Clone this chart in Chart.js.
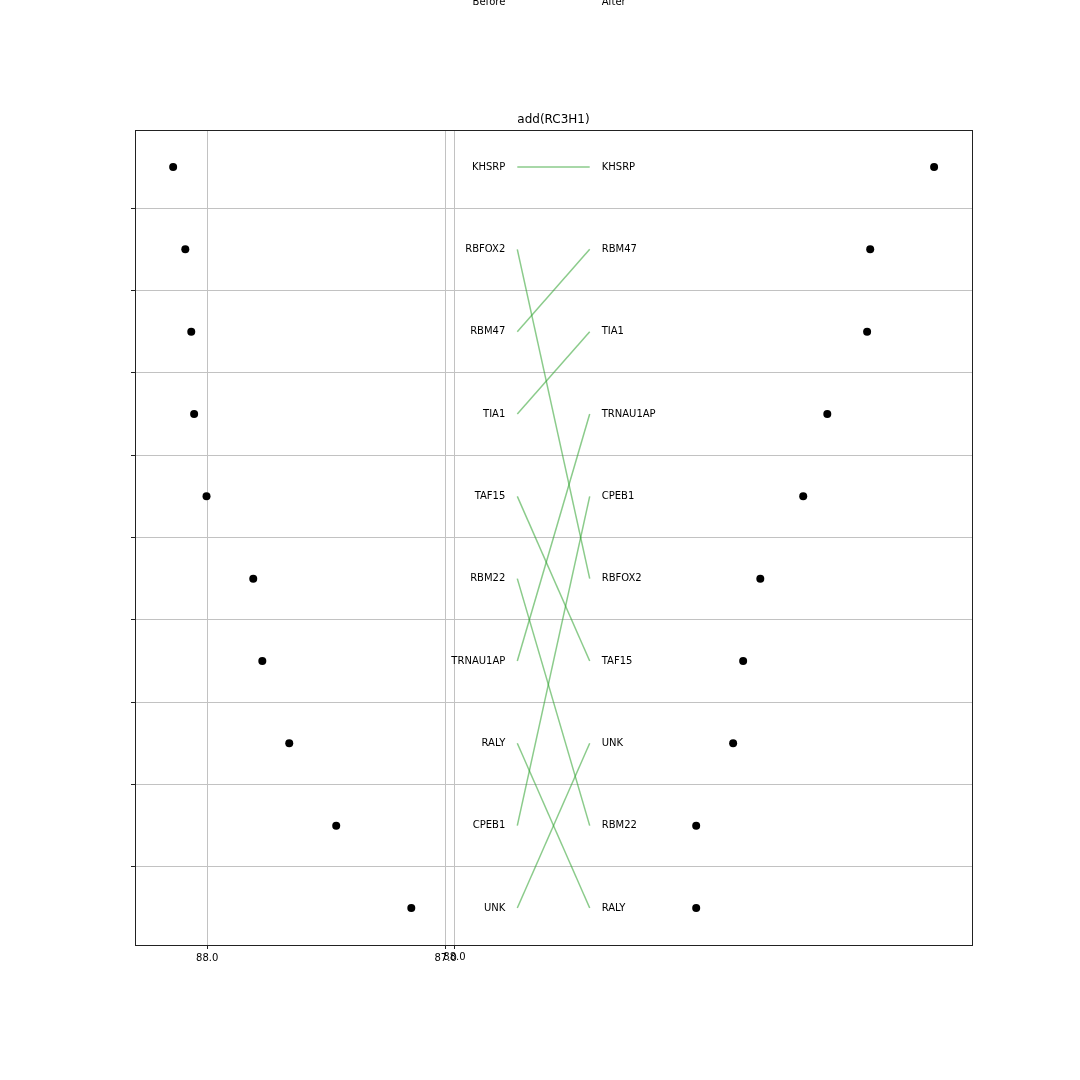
<!DOCTYPE html>
<html>
<head>
<meta charset="utf-8">
<script src="https://cdn.jsdelivr.net/npm/chart.js@4/dist/chart.umd.min.js"></script>
<style>
html,body{margin:0;padding:0;background:#fff;}
#wrap{width:1080px;height:1080px;}
</style>
</head>
<body>
<div id="wrap"><canvas id="c" width="1080" height="1080"></canvas></div>
<script>
// ---- data ----
const chartTitle = 'add(RC3H1)';
const headerBefore = 'Before';
const headerAfter = 'After';
const beforeGenes = ['KHSRP','RBFOX2','RBM47','TIA1','TAF15','RBM22','TRNAU1AP','RALY','CPEB1','UNK'];
const beforeScores = [88.143, 88.092, 88.067, 88.055, 88.003, 87.807, 87.769, 87.656, 87.459, 87.144];
const afterGenes = ['KHSRP','RBM47','TIA1','TRNAU1AP','CPEB1','RBFOX2','TAF15','UNK','RBM22','RALY'];
const afterScores = [90.013, 89.745, 89.732, 89.565, 89.464, 89.284, 89.212, 89.170, 89.015, 89.015];
const beforeTicks = [88.0, 87.0];
const beforeTickLabels = ['88.0', '87.0'];
const afterTicks = [88.0];
const afterTickLabels = ['88.0'];
const rowTicks = [0.5, 1.5, 2.5, 3.5, 4.5, 5.5, 6.5, 7.5, 8.5];

// ---- styling ----
const FONT = "'DejaVu Sans', sans-serif";
Chart.defaults.font.family = FONT;
Chart.defaults.font.size = 10;
Chart.defaults.color = '#000';
const GRID = '#c2c2c2';
const SLOPE = 'rgba(44,160,44,0.55)';

const beforeData = beforeScores.map((v, i) => ({x: v, y: i}));
const afterData = afterScores.map((v, i) => ({x: v, y: i}));

const slopeSets = beforeGenes.map((g, i) => ({
  type: 'line',
  xAxisID: 'xm', yAxisID: 'y',
  data: [{x: 0, y: i}, {x: 1, y: afterGenes.indexOf(g)}],
  borderColor: SLOPE, borderWidth: 1.5, pointRadius: 0, fill: false, tension: 0
}));

const overlay = {
  id: 'overlay',
  beforeDatasetsDraw(chart) {
    const {ctx, chartArea: a, scales} = chart;
    ctx.save();
    ctx.strokeStyle = GRID; ctx.lineWidth = 1;
    afterTicks.forEach(t => {
      const px = Math.round(scales.x2.getPixelForValue(t)) + 0.5;
      ctx.beginPath(); ctx.moveTo(px, a.top); ctx.lineTo(px, a.bottom); ctx.stroke();
    });
    ctx.restore();
  },
  afterDraw(chart) {
    const {ctx, chartArea: a, scales} = chart;
    ctx.save();
    // frame
    ctx.strokeStyle = '#222'; ctx.lineWidth = 1;
    ctx.strokeRect(Math.round(a.left) + 0.5, Math.round(a.top) + 0.5,
                   Math.round(a.right - a.left), Math.round(a.bottom - a.top));
    // title centred over the plot area
    ctx.fillStyle = '#000';
    ctx.font = '12px ' + FONT;
    ctx.textAlign = 'center'; ctx.textBaseline = 'middle';
    ctx.fillText(chartTitle, (a.left + a.right) / 2, a.top - 10);
    // after-axis tick
    ctx.font = '10px ' + FONT;
    afterTicks.forEach((t, i) => {
      const px = Math.round(scales.x2.getPixelForValue(t)) + 0.5;
      ctx.beginPath(); ctx.moveTo(px, a.bottom); ctx.lineTo(px, a.bottom + 4); ctx.stroke();
      ctx.textAlign = 'center'; ctx.textBaseline = 'top';
      ctx.fillText(afterTickLabels[i], px, a.bottom + 7);
    });
    // gene labels
    const xl = scales.xm.getPixelForValue(0) - 12;
    const xr = scales.xm.getPixelForValue(1) + 12;
    ctx.textBaseline = 'middle';
    beforeGenes.forEach((g, i) => {
      ctx.textAlign = 'right';
      ctx.fillText(g, xl, scales.y.getPixelForValue(i));
    });
    afterGenes.forEach((g, i) => {
      ctx.textAlign = 'left';
      ctx.fillText(g, xr, scales.y.getPixelForValue(i));
    });
    // headers
    const yh = scales.y.getPixelForValue(-2);
    ctx.textAlign = 'right'; ctx.fillText(headerBefore, xl, yh);
    ctx.textAlign = 'left'; ctx.fillText(headerAfter, xr, yh);
    ctx.restore();
  }
};

new Chart(document.getElementById('c'), {
  type: 'scatter',
  data: {
    datasets: [
      ...slopeSets,
      {
        label: 'Before', xAxisID: 'x', yAxisID: 'y', data: beforeData,
        pointRadius: 4, pointBackgroundColor: '#000', pointBorderColor: '#000', pointBorderWidth: 0, showLine: false
      },
      {
        label: 'After', xAxisID: 'x2', yAxisID: 'y', data: afterData,
        pointRadius: 4, pointBackgroundColor: '#000', pointBorderColor: '#000', pointBorderWidth: 0, showLine: false
      }
    ]
  },
  options: {
    responsive: false,
    animation: false,
    events: [],
    layout: {padding: {left: 125, right: 108, top: 130, bottom: 110}},
    plugins: {
      legend: {display: false},
      tooltip: {enabled: false},
      title: {display: false}
    },
    scales: {
      x: {
        type: 'linear', position: 'bottom', reverse: true,
        min: 84.792, max: 88.303,
        afterBuildTicks: s => { s.ticks = beforeTicks.map(v => ({value: v})); },
        afterFit: s => { s.height = 25; },
        ticks: {
          color: '#000', font: {size: 10, family: FONT}, padding: 3, maxRotation: 0,
          callback: (v) => { const i = beforeTicks.indexOf(v); return i >= 0 ? beforeTickLabels[i] : ''; }
        },
        grid: {color: GRID, lineWidth: 1, drawTicks: true, tickLength: 4, tickColor: '#222'},
        border: {display: true, color: '#222', width: 1}
      },
      x2: {
        type: 'linear', display: false, min: 86.661, max: 90.172
      },
      xm: {
        type: 'linear', display: false, min: -5.280, max: 6.280
      },
      y: {
        type: 'linear', position: 'left', reverse: true,
        min: -0.45, max: 9.45,
        afterBuildTicks: s => { s.ticks = rowTicks.map(v => ({value: v})); },
        afterFit: s => { s.width = 10; },
        ticks: {display: true, callback: () => ''},
        grid: {color: GRID, lineWidth: 1, drawTicks: true, tickLength: 4, tickColor: '#222'},
        border: {display: true, color: '#222', width: 1}
      }
    }
  },
  plugins: [overlay]
});
</script>
</body>
</html>
